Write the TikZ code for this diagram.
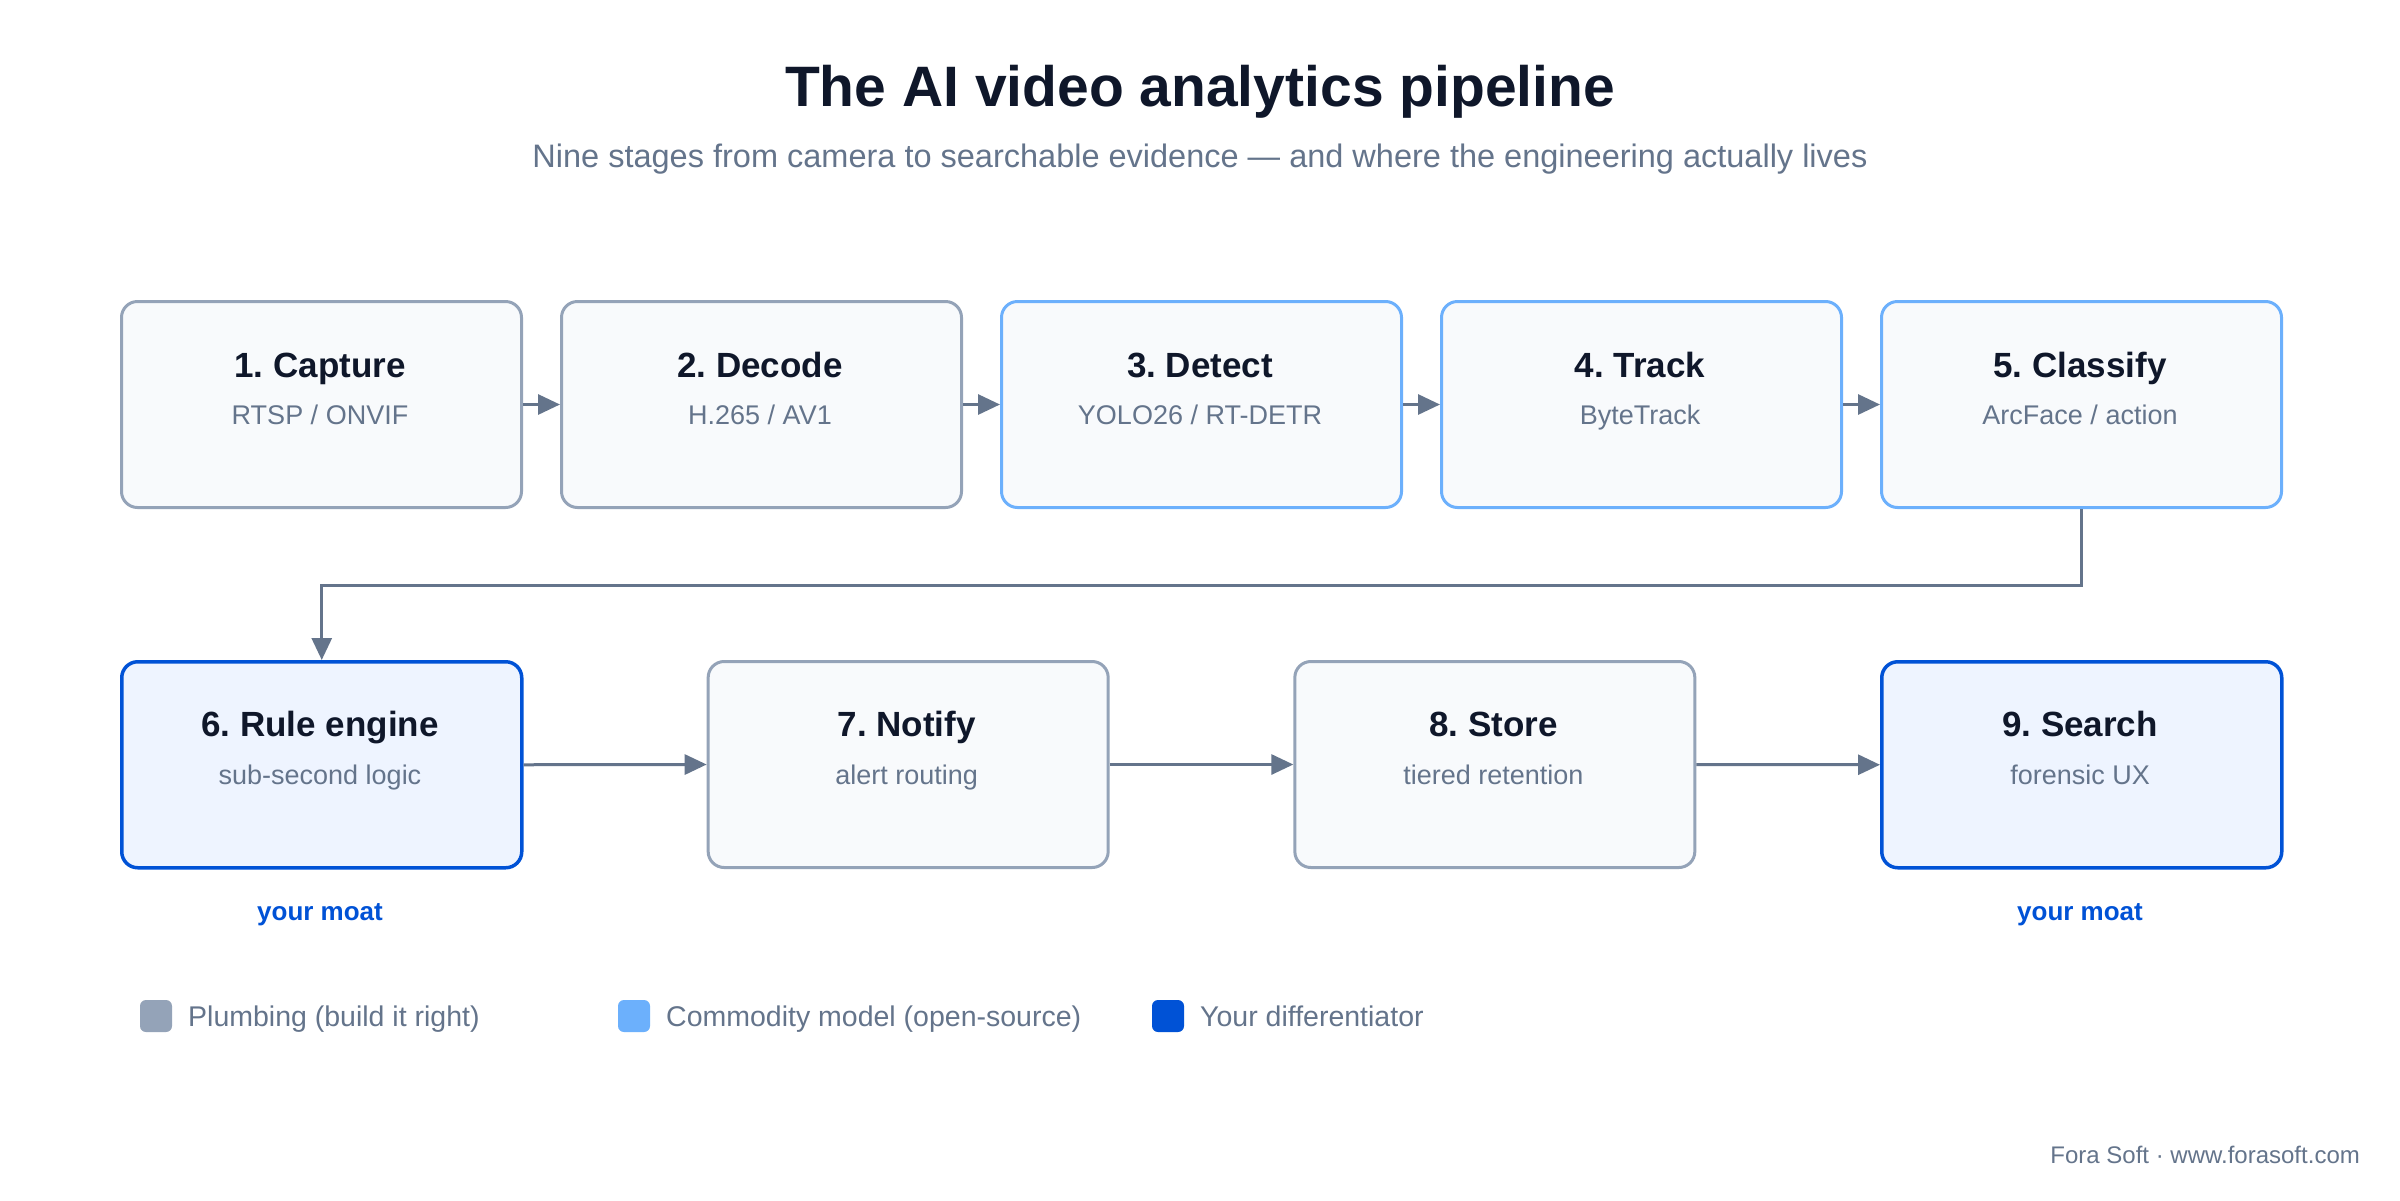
\documentclass[tikz,border=0pt]{standalone}
\usepackage{fontspec}
\setmainfont{Liberation Sans}
\usetikzlibrary{arrows.meta}
\definecolor{ink}{HTML}{0F172A}
\definecolor{muted}{HTML}{64748B}
\definecolor{plumb}{HTML}{94A3B8}
\definecolor{plumbfill}{HTML}{F8FAFC}
\definecolor{commod}{HTML}{6CB0FC}
\definecolor{diffc}{HTML}{0052D6}
\definecolor{difffill}{HTML}{EEF4FF}
\definecolor{arrowc}{HTML}{64748B}
\frenchspacing
\tikzset{
  box/.style={rounded corners=16pt, line width=3pt, minimum width=400pt, minimum height=206pt, inner sep=0pt, anchor=north west},
  plumbbox/.style={box, draw=plumb, fill=plumbfill},
  commbox/.style={box, draw=commod, fill=plumbfill},
  diffbox/.style={box, draw=diffc, fill=difffill, line width=3.5pt},
  btitle/.style={anchor=base, text=ink, font=\fontsize{35}{40}\selectfont\bfseries, inner sep=0pt},
  bsub/.style={anchor=base, text=muted, font=\fontsize{27}{30}\selectfont, inner sep=0pt},
  moat/.style={anchor=base, text=diffc, font=\fontsize{26}{30}\selectfont\bfseries, inner sep=0pt},
  conn/.style={draw=arrowc, line width=3pt, -{Triangle[length=22pt,width=20pt]}},
  legsq/.style={rounded corners=6pt, minimum size=32pt, inner sep=0pt},
  legtxt/.style={anchor=base west, text=muted, font=\fontsize{28.5}{32}\selectfont, inner sep=0pt}
}
\begin{document}
\begin{tikzpicture}[x=1pt,y=-1pt]
\useasboundingbox[fill=white] (0,0) rectangle (2400,1200);
\node[anchor=base, text=ink, font=\fontsize{57}{64}\selectfont\bfseries, inner sep=0pt] (title) at (1200,106) {The AI video analytics pipeline};
\node[anchor=base, text=muted, font=\fontsize{32.5}{36}\selectfont, inner sep=0pt] (subtitle) at (1200,167) {Nine stages from camera to searchable evidence — and where the engineering actually lives};
% row 1
\node[plumbbox] (b1) at (120,300) {};
\node[plumbbox] (b2) at (560,300) {};
\node[commbox] (b3) at (1000,300) {};
\node[commbox] (b4) at (1440,300) {};
\node[commbox] (b5) at (1880,300) {};
\node[btitle] (t1) at (320,377) {1. Capture};
\node[bsub] (s1) at (320,424) {RTSP / ONVIF};
\node[btitle] (t2) at (760,377) {2. Decode};
\node[bsub] (s2) at (760,424) {H.265 / AV1};
\node[btitle] (t3) at (1200,377) {3. Detect};
\node[bsub] (s3) at (1200,424) {YOLO26 / RT-DETR};
\node[btitle] (t4) at (1640,377) {4. Track};
\node[bsub] (s4) at (1640,424) {ByteTrack};
\node[btitle] (t5) at (2080,377) {5. Classify};
\node[bsub] (s5) at (2080,424) {ArcFace / action};
% row 2
\node[diffbox] (b6) at (120,660) {};
\node[plumbbox] (b7) at (706.67,660) {};
\node[plumbbox] (b8) at (1293.33,660) {};
\node[diffbox] (b9) at (1880,660) {};
\node[btitle] (t6) at (320,736) {6. Rule engine};
\node[bsub] (s6) at (320,784) {sub-second logic};
\node[btitle] (t7) at (906.67,736) {7. Notify};
\node[bsub] (s7) at (906.67,784) {alert routing};
\node[btitle] (t8) at (1493.33,736) {8. Store};
\node[bsub] (s8) at (1493.33,784) {tiered retention};
\node[btitle] (t9) at (2080,736) {9. Search};
\node[bsub] (s9) at (2080,784) {forensic UX};
\node[moat] (m6) at (320,920) {your moat};
\node[moat] (m9) at (2080,920) {your moat};
% connectors
\draw[conn] (b1.east) -- (b2.west);
\draw[conn] (b2.east) -- (b3.west);
\draw[conn] (b3.east) -- (b4.west);
\draw[conn] (b4.east) -- (b5.west);
\draw[conn] (b5.south) -- ++(0,76) -| (b6.north);
\draw[conn] (b6.east) -- (b7.west);
\draw[conn] (b7.east) -- (b8.west);
\draw[conn] (b8.east) -- (b9.west);
% legend
\node[legsq, fill=plumb] (l1) at (156,1016) {};
\node[legtxt] (lt1) at (188,1026) {Plumbing (build it right)};
\node[legsq, fill=commod] (l2) at (634,1016) {};
\node[legtxt] (lt2) at (666,1026) {Commodity model (open-source)};
\node[legsq, fill=diffc] (l3) at (1168,1016) {};
\node[legtxt] (lt3) at (1200,1026) {Your differentiator};
% footer
\node[anchor=base east, text=muted, font=\fontsize{24}{28}\selectfont, inner sep=0pt] (footer) at (2360,1163) {Fora Soft · www.forasoft.com};
\end{tikzpicture}
\end{document}
